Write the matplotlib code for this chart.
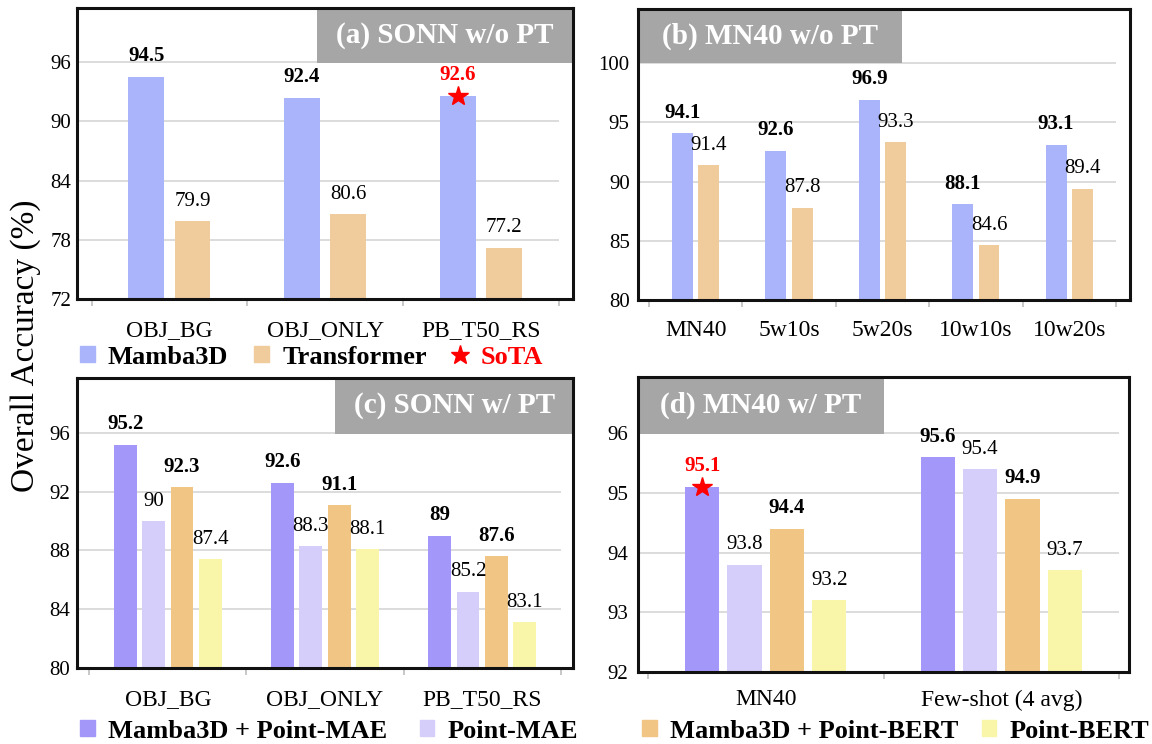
import matplotlib
matplotlib.use('Agg')
import matplotlib.pyplot as plt
import numpy as np
from matplotlib.patches import Rectangle, Patch
from matplotlib.lines import Line2D

plt.rcParams['font.family'] = ['Liberation Serif', 'DejaVu Serif']

# ---------------- data ----------------
a_cats = ['OBJ_BG', 'OBJ_ONLY', 'PB_T50_RS']
a_mamba = [94.5, 92.4, 92.6]
a_trans = [79.9, 80.6, 77.2]

b_cats = ['MN40', '5w10s', '5w20s', '10w10s', '10w20s']
b_mamba = [94.1, 92.6, 96.9, 88.1, 93.1]
b_trans = [91.4, 87.8, 93.3, 84.6, 89.4]

c_cats = ['OBJ_BG', 'OBJ_ONLY', 'PB_T50_RS']
c_mamba_mae = [95.2, 92.6, 89.0]
c_mae = [90.0, 88.3, 85.2]
c_mamba_bert = [92.3, 91.1, 87.6]
c_bert = [87.4, 88.1, 83.1]

d_cats = ['MN40', 'Few-shot (4 avg)']
d_mamba_mae = [95.1, 95.6]
d_mae = [93.8, 95.4]
d_mamba_bert = [94.4, 94.9]
d_bert = [93.2, 93.7]

a_yticks = [72, 78, 84, 90, 96]
b_yticks = [80, 85, 90, 95, 100]
c_yticks = [80, 84, 88, 92, 96]
d_yticks = [92, 93, 94, 95, 96]

# ---------------- style ----------------
C_MAMBA = '#a9b4fa'
C_TRANS = '#f0cb9b'
C_MMAE = '#a497fa'
C_MAE = '#d5cefb'
C_MBERT = '#f1c584'
C_BERT = '#f9f5a9'
C_BOX = '#a6a6a6'
C_GRID = '#d9d9d9'

W, H = 1152, 744
fig = plt.figure(figsize=(W / 100, H / 100), dpi=100)


def rect(x0, x1, y0, y1):
    return [x0 / W, 1 - y1 / H, (x1 - x0) / W, (y1 - y0) / H]


def panel(r, cats, series, colors, bolds, offsets, width, ylim, yticks,
          title, box, margin, ypad, xpad, sota=None):
    ax = fig.add_axes(r)
    n = len(cats)
    x = np.arange(n)
    ax.set_xlim(-0.5 - margin[0], n - 0.5 + margin[1])
    ax.set_ylim(*ylim)
    ax.hlines(yticks, -0.5 - margin[0], n - 0.5, colors=C_GRID, lw=1.3, zorder=0)
    for s, (vals, col, bold, off) in enumerate(zip(series, colors, bolds, offsets)):
        ax.bar(x + off, vals, width, color=col, zorder=2)
        for i, v in enumerate(vals):
            is_sota = sota is not None and sota == (i, s)
            ax.annotate(f'{v:g}', (x[i] + off, v), xytext=(0, 7.5),
                        textcoords='offset points', ha='center', va='bottom',
                        fontsize=15, fontweight='bold' if bold else 'normal',
                        color='red' if is_sota else 'black', zorder=5)
            if is_sota:
                ax.plot([x[i] + off], [v], marker='*', color='red', ms=15,
                        mec='red', zorder=6, clip_on=False)
    ax.set_yticks(yticks)
    ax.set_xticks(x)
    ax.set_xticklabels(cats, fontsize=17)
    ax.set_xticks(np.arange(n + 1) - 0.5, minor=True)
    ax.tick_params(axis='x', which='major', length=0, pad=xpad)
    ax.tick_params(axis='x', which='minor', length=5, width=1.2,
                   color='#bfbfbf', direction='out')
    ax.tick_params(axis='y', length=0, pad=ypad, labelsize=15)
    for sp in ax.spines.values():
        sp.set_linewidth(2.2)
        sp.set_color('#111111')
        sp.set_zorder(10)
    bx0, bx1, by0 = box
    ax.add_patch(Rectangle((bx0, by0), bx1 - bx0, 1 - by0, transform=ax.transAxes,
                           facecolor=C_BOX, edgecolor='none', zorder=8))
    ax.text((bx0 + bx1) / 2, (by0 + 1) / 2, title, transform=ax.transAxes,
            ha='center', va='center', color='white', fontsize=21,
            fontweight='bold', zorder=9)
    return ax


panel(rect(77, 573, 8, 299), a_cats, [a_mamba, a_trans], [C_MAMBA, C_TRANS],
      [True, False], [-0.148, 0.148], 0.231, (72, 101.47), a_yticks,
      '(a) SONN w/o PT', (0.484, 1.0, 0.811), (0.094, 0.093), 4, 15, sota=(2, 0))

panel(rect(638, 1130, 9, 300), b_cats, [b_mamba, b_trans], [C_MAMBA, C_TRANS],
      [True, False], [-0.141, 0.141], 0.223, (80, 104.56), b_yticks,
      '(b) MN40 w/o PT', (0.0, 0.536, 0.814), (0.117, 0.15), 6, 14.5)

off4 = [-0.27, -0.09, 0.09, 0.27]
panel(rect(77, 573, 378, 668), c_cats,
      [c_mamba_mae, c_mae, c_mamba_bert, c_bert], [C_MMAE, C_MAE, C_MBERT, C_BERT],
      [True, False, True, False], off4, 0.145, (80, 99.74), c_yticks,
      '(c) SONN w/ PT', (0.521, 1.0, 0.807), (0.078, 0.078), 5, 15)

panel(rect(638, 1129, 377, 672), d_cats,
      [d_mamba_mae, d_mae, d_mamba_bert, d_bert], [C_MMAE, C_MAE, C_MBERT, C_BERT],
      [True, False, True, False], off4, 0.145, (92, 96.94), d_yticks,
      '(d) MN40 w/ PT', (0.0, 0.5, 0.807), (0.042, 0.042), 7, 12.5, sota=(0, 0))

fig.text(26 / W, 1 - 346 / H, 'Overall Accuracy (%)', rotation=90,
         ha='center', va='center', fontsize=24)

leg_kw = dict(loc='center left', frameon=False, borderpad=0, borderaxespad=0,
              handlelength=0.55, handleheight=0.55, handletextpad=0.5,
              prop={'weight': 'bold', 'size': 19})

leg1 = fig.legend([Patch(color=C_MAMBA), Patch(color=C_TRANS),
                   Line2D([], [], marker='*', color='red', ls='none', ms=14)],
                  ['Mamba3D', 'Transformer', 'SoTA'], ncol=3, columnspacing=1.0,
                  bbox_to_anchor=(80 / W, 1 - 357 / H), **leg_kw)
leg1.get_texts()[2].set_color('red')

fig.legend([Patch(color=C_MMAE), Patch(color=C_MAE)],
           ['Mamba3D + Point-MAE', 'Point-MAE'], ncol=2, columnspacing=1.25,
           bbox_to_anchor=(80 / W, 1 - 731 / H), **leg_kw)
fig.legend([Patch(color=C_MBERT), Patch(color=C_BERT)],
           ['Mamba3D + Point-BERT', 'Point-BERT'], ncol=2, columnspacing=0.9,
           bbox_to_anchor=(642 / W, 1 - 731 / H), **leg_kw)

fig.savefig('out.png', dpi=100)
